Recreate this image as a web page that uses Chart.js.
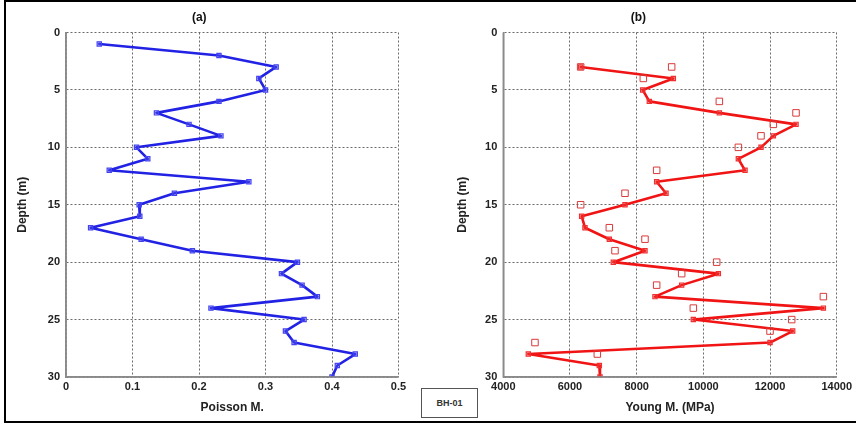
<!DOCTYPE html>
<html>
<head>
<meta charset="utf-8">
<script src="https://cdn.jsdelivr.net/npm/chart.js@4"></script>
<style>
  html, body { margin:0; padding:0; background:#fff; }
  body { width:856px; height:425px; position:relative; overflow:hidden; font-family:"Liberation Sans", Arial, sans-serif; }
  #frame { position:absolute; left:4px; top:0px; width:900px; height:419px; border:2px solid #000; box-sizing:content-box; }
  #c1 { position:absolute; left:0; top:0; }
  #c2 { position:absolute; left:440px; top:0; }
  #tag { position:absolute; left:421px; top:388px; width:55px; height:28px; border:1px solid #555; font:bold 9px "Liberation Sans", Arial, sans-serif; color:#333; display:flex; align-items:center; justify-content:center; background:#fff; }
</style>
</head>
<body>
<div id="frame"></div>
<canvas id="c1" width="430" height="425"></canvas>
<canvas id="c2" width="416" height="425"></canvas>
<div id="tag">BH-01</div>
<script>
// ---- data ----
const depthA = [1,2,3,4,5,6,7,8,9,10,11,12,13,14,15,16,17,18,19,20,21,22,23,24,25,26,27,28,29,30];
const poisson = [0.05,0.23,0.316,0.29,0.30,0.23,0.136,0.185,0.233,0.106,0.123,0.065,0.275,0.163,0.11,0.111,0.037,0.113,0.19,0.348,0.324,0.355,0.378,0.218,0.358,0.33,0.343,0.435,0.408,0.40];

const depthB = [3,4,5,6,7,8,9,10,11,12,13,14,15,16,17,18,19,20,21,22,23,24,25,26,27,28,29,30];
const young = [6320,9100,8180,8380,10480,12780,12100,11730,11050,11250,8600,8880,7650,6350,6450,7180,8250,7300,10450,9350,8550,13600,9700,12680,12000,4750,6880,6900];

const sqDepth = [3,3,4,6,7,8,9,10,12,14,15,17,18,19,20,21,22,23,24,25,26,27,28];
const sqYoung = [6320,9050,8200,10480,12780,12100,11730,11050,8600,7650,6320,7180,8250,7350,10400,9350,8600,13600,9700,12650,12000,4950,6820];

const depthTicks = [0,5,10,15,20,25,30];
const poissonTicks = [0,0.1,0.2,0.3,0.4,0.5];
const youngTicks = [4000,6000,8000,10000,12000,14000];

// ---- helpers ----
const FONT = '"Liberation Sans", Arial, sans-serif';
const gridOpts = { color:'#6a6a6a', lineWidth:1, drawTicks:false, borderDash:[2,2] };
const borderOpts = { display:true, color:'#8a8a8a', width:1.5, dash:[2,2] };

function pts(xs, ys) { return xs.map((x,i)=>({x:x, y:ys[i]})); }

function yAxis(width) {
  return {
    type:'linear', reverse:true, min:0, max:30,
    afterBuildTicks: s => { s.ticks = depthTicks.map(v=>({value:v})); },
    afterFit: s => { s.width = width; },
    grid: gridOpts, border: borderOpts,
    ticks: { padding:6, color:'#222', font:{family:FONT, size:11, weight:'bold'}, callback: v => String(v) },
    title: { display:true, text:'Depth (m)', color:'#222', font:{family:FONT, size:12, weight:'bold'}, padding:{top:15,bottom:0} }
  };
}
function xAxis(min, max, ticks, label) {
  return {
    type:'linear', position:'bottom', min:min, max:max,
    afterBuildTicks: s => { s.ticks = ticks.map(v=>({value:v})); },
    afterFit: s => { s.height = 48; },
    grid: gridOpts, border: borderOpts,
    ticks: { padding:3, maxRotation:0, color:'#222', font:{family:FONT, size:11, weight:'bold'}, callback: v => String(v) },
    title: { display:true, text:label, color:'#222', font:{family:FONT, size:12, weight:'bold'}, padding:{top:0,bottom:10} }
  };
}
function titleOpts(t) {
  return { display:true, text:t, color:'#111', font:{family:FONT, size:12, weight:'bold'}, padding:{top:10,bottom:8.1} };
}

// solid axis lines on left & bottom over the dotted grid
const axisLines = {
  id:'axisLines',
  afterDatasetsDraw(chart) {
    const {ctx, chartArea:a} = chart;
    ctx.save();
    ctx.strokeStyle = '#8a8a8a'; ctx.lineWidth = 1.5; ctx.setLineDash([]);
    ctx.beginPath();
    ctx.moveTo(a.left, a.top); ctx.lineTo(a.left, a.bottom); ctx.lineTo(a.right, a.bottom);
    ctx.stroke();
    ctx.restore();
  }
};

Chart.defaults.animation = false;
Chart.defaults.responsive = false;

new Chart(document.getElementById('c1'), {
  type:'line',
  data: { datasets: [{
    data: pts(poisson, depthA),
    borderColor:'#2222e4', borderWidth:2.6, tension:0,
    borderJoinStyle:'round', borderCapStyle:'round',
    pointStyle:'rect', pointRadius:3, pointBorderWidth:1.2,
    pointBorderColor:'#4444ee', pointBackgroundColor:'rgba(90,90,240,0.35)'
  }]},
  options: {
    layout:{ padding:{left:0, right:31.5, top:0, bottom:0} },
    plugins:{ legend:{display:false}, tooltip:{enabled:false}, title: titleOpts('(a)') },
    scales:{
      x: xAxis(0, 0.5, poissonTicks, 'Poisson M.'),
      y: yAxis(66)
    }
  },
  plugins:[axisLines]
});

new Chart(document.getElementById('c2'), {
  type:'line',
  data: { datasets: [
    {
      data: pts(young, depthB),
      borderColor:'#f01414', borderWidth:2.6, tension:0,
      borderJoinStyle:'round', borderCapStyle:'round',
      pointStyle:'rect', pointRadius:3, pointBorderWidth:1.2,
      pointBorderColor:'#f03030', pointBackgroundColor:'rgba(240,60,60,0.35)', order:2
    },
    {
      data: pts(sqYoung, sqDepth), showLine:false,
      pointStyle:'rect', pointRadius:4.6, pointBorderWidth:1,
      pointBorderColor:'#d83a3a', pointBackgroundColor:'rgba(255,255,255,0)', order:1
    }
  ]},
  options: {
    layout:{ padding:{left:0, right:19.3, top:0, bottom:0} },
    plugins:{ legend:{display:false}, tooltip:{enabled:false}, title: titleOpts('(b)') },
    scales:{
      x: xAxis(4000, 14000, youngTicks, 'Young M. (MPa)'),
      y: yAxis(63.3)
    }
  },
  plugins:[axisLines]
});
</script>
</body>
</html>
